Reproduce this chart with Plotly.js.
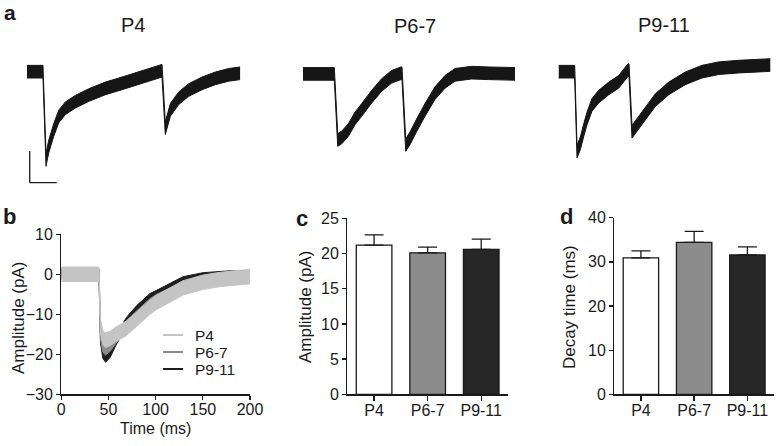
<!DOCTYPE html>
<html>
<head>
<meta charset="utf-8">
<script src="https://cdn.plot.ly/plotly-3.0.1.min.js"></script>
<style>
  html, body { margin: 0; padding: 0; background: #fff; }
  #chart { width: 777px; height: 446px; }
</style>
</head>
<body>
<div id="chart"></div>
<script>
// ---------- Panel a: example traces (time in ms, current in pA) ----------
const exampleNames = ['P4', 'P6-7', 'P9-11'];

const timeP4    = [0, 29.6, 35.2, 40.2, 49.4, 58.7, 70.9, 89.4, 114.3, 145, 175.9, 206.9, 237.6, 250, 256.1, 265.4, 280.9, 299.4, 324.1, 348.7, 373.5, 395];
const currentP4 = [0.1, 0.1, -27.8, -23.6, -18.4, -14.1, -11.5, -9.4, -7.3, -5.2, -3.6, -2.0, -0.4, 0.4, -17.8, -12.0, -8.3, -5.7, -3.6, -2.0, -0.9, -0.4];

const timeP67    = [0, 58, 64.3, 71.7, 83.9, 96.3, 108.7, 127.2, 145.7, 164.3, 181.5, 183.3, 190.2, 198.1, 210.6, 225.9, 244.4, 263, 281.5, 312.4, 343.1, 368, 392.6];
const currentP67 = [-0.6, -0.6, -21.5, -20.7, -18.4, -14.7, -12.0, -7.8, -4.1, -1.5, -0.4, -0.4, -23.1, -21.0, -16.8, -12.0, -6.7, -3.1, -0.9, -0.2, -0.4, -0.6, -0.6];

const timeP911    = [0, 30, 34.3, 40.4, 46.7, 52.8, 62, 74.4, 93, 111.5, 128.7, 130.6, 136.1, 145.4, 160.7, 179.3, 204.1, 234.8, 265.7, 296.7, 333.7, 370.7, 392.2];
const currentP911 = [0.1, 0.1, -25.2, -22.6, -18.4, -14.7, -10.4, -7.8, -5.2, -3.1, 0.6, 0.6, -18.9, -16.8, -13.1, -8.9, -5.2, -2.0, 0.1, 1.2, 1.7, 1.9, 2.2];

const scaleBarTime = 50;     // ms
const scaleBarCurrent = 10;  // pA

// ---------- Panel b: averaged traces ----------
const avgTime = [0, 40, 41.5, 44, 47, 52, 58, 69, 80, 94, 101, 115, 129, 150, 165, 180, 200];
const avgP4   = [0, 0, -13, -15.8, -16.5, -16, -15, -13.5, -11.2, -8.2, -7.0, -5.3, -3.4, -2.0, -1.4, -1.0, -0.6];
const avgP67  = [0, 0, -15, -18.3, -19, -18, -16, -12.8, -10.3, -7.3, -6.2, -4.8, -3.2, -1.8, -1.2, -0.8, -0.4];
const avgP911 = [0.1, 0.1, -16, -19.8, -20.8, -19.5, -16.5, -12, -9.0, -6.0, -5.2, -3.4, -1.8, -0.8, -0.5, -0.3, -0.2];

// ---------- Panels c & d: bar summaries ----------
const groups        = ['P4', 'P6-7', 'P9-11'];
const amplitudeMean = [21.2, 20.1, 20.6];
const amplitudeSEM  = [1.45, 0.8, 1.45];
const decayMean     = [30.9, 34.4, 31.55];
const decaySEM      = [1.6, 2.5, 1.85];

// ---------- styling ----------
const FONT = 'Arial, "Liberation Sans", Helvetica, sans-serif';
const INK = '#1a1a1a';
const groupColors = ['#c4c4c4', '#8a8a8a', '#1e1e1e'];
const barColors = ['#ffffff', '#8c8c8c', '#262626'];

function band(x, y, half, color, xa, ya) {
  const up = y.map(v => v + half);
  const lo = y.map(v => v - half);
  return [
    {x: x, y: up, xaxis: xa, yaxis: ya, mode: 'lines', line: {color: color, width: 1}, hoverinfo: 'skip', showlegend: false},
    {x: x, y: lo, xaxis: xa, yaxis: ya, mode: 'lines', line: {color: color, width: 1}, fill: 'tonexty', fillcolor: color, hoverinfo: 'skip', showlegend: false}
  ];
}

const data = [];
data.push(...band(timeP4, currentP4, 2.0, '#161616', 'x', 'y'));
data.push(...band(timeP67, currentP67, 2.0, '#161616', 'x2', 'y2'));
data.push(...band(timeP911, currentP911, 2.0, '#161616', 'x3', 'y3'));

// panel b: darkest underneath, P4 on top
data.push(...band(avgTime, avgP911, 1.2, groupColors[2], 'x4', 'y4'));
data.push(...band(avgTime, avgP67, 1.2, groupColors[1], 'x4', 'y4'));
data.push(...band(avgTime, avgP4, 1.8, groupColors[0], 'x4', 'y4'));

// panel c
data.push({
  type: 'bar', x: groups, y: amplitudeMean, xaxis: 'x5', yaxis: 'y5',
  marker: {color: barColors, line: {color: INK, width: 1.3}},
  error_y: {type: 'data', array: amplitudeSEM, arrayminus: [0, 0, 0], symmetric: false, color: INK, thickness: 1.3, width: 9.5},
  hoverinfo: 'skip', showlegend: false
});
// panel d
data.push({
  type: 'bar', x: groups, y: decayMean, xaxis: 'x6', yaxis: 'y6',
  marker: {color: barColors, line: {color: INK, width: 1.3}},
  error_y: {type: 'data', array: decaySEM, arrayminus: [0, 0, 0], symmetric: false, color: INK, thickness: 1.3, width: 9.5},
  hoverinfo: 'skip', showlegend: false
});

const hidden = {visible: false, fixedrange: true};
const axisStyle = {
  showline: true, linecolor: INK, linewidth: 1.3, ticks: 'outside', ticklen: 4, tickwidth: 1.3,
  tickcolor: INK, showgrid: false, zeroline: false, tickfont: {family: FONT, size: 16, color: INK},
  fixedrange: true
};
const xAxisExtra = {ticklabelstandoff: -4};

const W = 777, H = 446;
const px = v => v / W;
const py = v => 1 - v / H;

const annotations = [];
function addText(text, x, y, size, opts) {
  annotations.push(Object.assign({
    text: text, x: px(x), y: py(y), xref: 'paper', yref: 'paper', showarrow: false,
    font: {family: FONT, size: size, color: INK}, xanchor: 'center', yanchor: 'middle'
  }, opts || {}));
}
// panel letters
addText('<b>a</b>', 10, 13, 21);
addText('<b>b</b>', 9, 216, 22);
addText('<b>c</b>', 302, 218, 22);
addText('<b>d</b>', 566, 216, 22);
// example titles
addText(exampleNames[0], 133, 25, 20);
addText(exampleNames[1], 415, 26, 20);
addText(exampleNames[2], 664, 25, 20);
// axis titles
addText('Amplitude (pA)', 18, 318, 17, {textangle: -90});
addText('Time (ms)', 155, 428, 16);
addText('Amplitude (pA)', 305, 307, 17, {textangle: -90});
addText('Decay time (ms)', 569, 307, 17, {textangle: -90});

// manual legend for panel b
const legendRows = [335, 352, 369];
const shapes = [];
groups.forEach((g, i) => {
  shapes.push({type: 'line', xref: 'paper', yref: 'paper', x0: px(163), x1: px(183), y0: py(legendRows[i]), y1: py(legendRows[i]),
               line: {color: groupColors[i], width: 2}});
  addText(g, 193, legendRows[i], 15.5, {xanchor: 'left'});
});
// scale bar in panel a (P4 axes)
shapes.push({type: 'line', xref: 'x', yref: 'y', x0: 5, x1: 5, y0: -35, y1: -35 + scaleBarCurrent, line: {color: INK, width: 1.3}});
shapes.push({type: 'line', xref: 'x', yref: 'y', x0: 5, x1: 5 + scaleBarTime, y0: -35, y1: -35, line: {color: INK, width: 1.3}});

const layout = {
  width: W, height: H,
  margin: {l: 0, r: 0, t: 0, b: 0},
  paper_bgcolor: '#fff', plot_bgcolor: 'rgba(0,0,0,0)',
  showlegend: false,
  bargap: 0.335,
  font: {family: FONT, color: INK},
  xaxis:  Object.assign({}, hidden, {domain: [0.03475, 0.3093], range: [0, 395], anchor: 'y'}),
  yaxis:  Object.assign({}, hidden, {domain: [0.58341, 0.87399], range: [-36, 5], anchor: 'x'}),
  xaxis2: Object.assign({}, hidden, {domain: [0.38996, 0.66448], range: [0, 395], anchor: 'y2'}),
  yaxis2: Object.assign({}, hidden, {domain: [0.58341, 0.87399], range: [-36, 5], anchor: 'x2'}),
  xaxis3: Object.assign({}, hidden, {domain: [0.71879, 0.99331], range: [0, 395], anchor: 'y3'}),
  yaxis3: Object.assign({}, hidden, {domain: [0.58341, 0.87399], range: [-36, 5], anchor: 'x3'}),
  xaxis4: Object.assign({}, axisStyle, xAxisExtra, {domain: [0.07889, 0.32175], range: [0, 200], tickvals: [0, 50, 100, 150, 200], anchor: 'y4'}),
  yaxis4: Object.assign({}, axisStyle, {domain: [0.11592, 0.47466], range: [-30, 10], tickvals: [-30, -20, -10, 0, 10], anchor: 'x4'}),
  xaxis5: Object.assign({}, axisStyle, xAxisExtra, {domain: [0.44698, 0.65380], type: 'category', range: [-0.5, 2.5], ticklen: 5, anchor: 'y5'}),
  yaxis5: Object.assign({}, axisStyle, {domain: [0.11592, 0.51054], range: [0, 25], tickvals: [0, 5, 10, 15, 20, 25], anchor: 'x5'}),
  xaxis6: Object.assign({}, axisStyle, xAxisExtra, {domain: [0.79060, 0.99614], type: 'category', range: [-0.5, 2.5], ticklen: 5, anchor: 'y6'}),
  yaxis6: Object.assign({}, axisStyle, {domain: [0.11592, 0.51188], range: [0, 40], tickvals: [0, 10, 20, 30, 40], anchor: 'x6'}),
  annotations: annotations,
  shapes: shapes
};

Plotly.newPlot('chart', data, layout, {staticPlot: true, displayModeBar: false});
</script>
</body>
</html>
